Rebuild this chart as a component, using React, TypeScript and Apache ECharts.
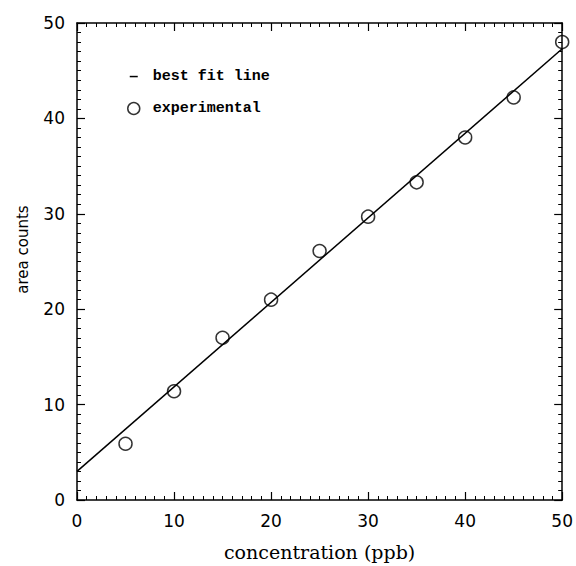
import React, { useEffect, useRef } from "react";
import * as echarts from "echarts";

const concentration = [5, 10, 15, 20, 25, 30, 35, 40, 45, 50];
const areaCounts = [5.9, 11.4, 17.0, 21.0, 26.1, 29.7, 33.3, 38.0, 42.2, 48.0];
const fitX = [0, 50];
const fitY = [3.0, 47.3];

const seriesNames = ["best fit line", "experimental"];

export default function App() {
  const ref = useRef<HTMLDivElement>(null);
  useEffect(() => {
    if (!ref.current) return;
    const chart = echarts.init(ref.current, null, { renderer: "svg" });
    const tickFont = { fontFamily: "DejaVu Sans", fontSize: 17, color: "#000" };
    const axisLine = { show: true, onZero: false, lineStyle: { color: "#000", width: 1.5 } };
    const axisTick = { show: true, inside: true, length: 8, lineStyle: { color: "#000", width: 1.2 } };
    const minorTick = { show: true, splitNumber: 10, length: 4, lineStyle: { color: "#000", width: 1 } };
    chart.setOption({
      animation: false,
      backgroundColor: "#fff",
      grid: { left: 77, right: 13, top: 23, bottom: 65, containLabel: false },
      legend: {
        orient: "vertical",
        left: 122,
        top: 64,
        itemWidth: 12,
        itemHeight: 12,
        itemGap: 17,
        selectedMode: false,
        textStyle: {
          fontFamily: "Liberation Mono",
          fontSize: 15,
          fontWeight: "bold",
          color: "#000",
          padding: [0, 0, 0, 8],
        },
        data: [
          {
            name: seriesNames[0],
            icon: "path://M0,0 L0,0 M2,5.3 L10,5.3 L10,6.8 L2,6.8 Z M12,12 L12,12",
            itemStyle: { color: "#000", borderWidth: 0 },
          },
          {
            name: seriesNames[1],
            icon: "circle",
            itemStyle: { color: "#fff", borderColor: "#000", borderWidth: 1.5 },
          },
        ],
      },
      xAxis: [
        {
          type: "value",
          min: 0,
          max: 50,
          interval: 10,
          position: "bottom",
          name: "concentration (ppb)",
          nameLocation: "middle",
          nameGap: 42,
          nameTextStyle: { fontFamily: "DejaVu Serif", fontSize: 19, color: "#000" },
          axisLine,
          axisTick,
          minorTick,
          axisLabel: { ...tickFont, margin: 12 },
          splitLine: { show: false },
        },
        {
          type: "value",
          min: 0,
          max: 50,
          interval: 10,
          position: "top",
          axisLine,
          axisTick,
          minorTick,
          axisLabel: { show: false },
          splitLine: { show: false },
        },
      ],
      yAxis: [
        {
          type: "value",
          min: 0,
          max: 50,
          interval: 10,
          position: "left",
          name: "area counts",
          nameLocation: "middle",
          nameGap: 47,
          nameTextStyle: { fontFamily: "DejaVu Sans", fontSize: 15, color: "#000", padding: [0, 0, 0, 24] },
          axisLine,
          axisTick,
          minorTick,
          axisLabel: { ...tickFont, margin: 12 },
          splitLine: { show: false },
        },
        {
          type: "value",
          min: 0,
          max: 50,
          interval: 10,
          position: "right",
          axisLine,
          axisTick,
          minorTick,
          axisLabel: { show: false },
          splitLine: { show: false },
        },
      ],
      series: [
        {
          name: seriesNames[0],
          type: "line",
          data: fitX.map((x, i) => [x, fitY[i]]),
          showSymbol: false,
          symbol: "none",
          lineStyle: { color: "#000", width: 1.5 },
          itemStyle: { color: "#000" },
          z: 2,
        },
        {
          name: seriesNames[1],
          type: "scatter",
          data: concentration.map((x, i) => [x, areaCounts[i]]),
          symbol: "circle",
          symbolSize: 13,
          itemStyle: { color: "rgba(255,255,255,0)", borderColor: "#000", borderWidth: 1.5 },
          z: 3,
        },
      ],
    });
    return () => chart.dispose();
  }, []);
  return <div ref={ref} style={{ width: 576, height: 566, position: "absolute", left: 0, top: 0 }} />;
}
